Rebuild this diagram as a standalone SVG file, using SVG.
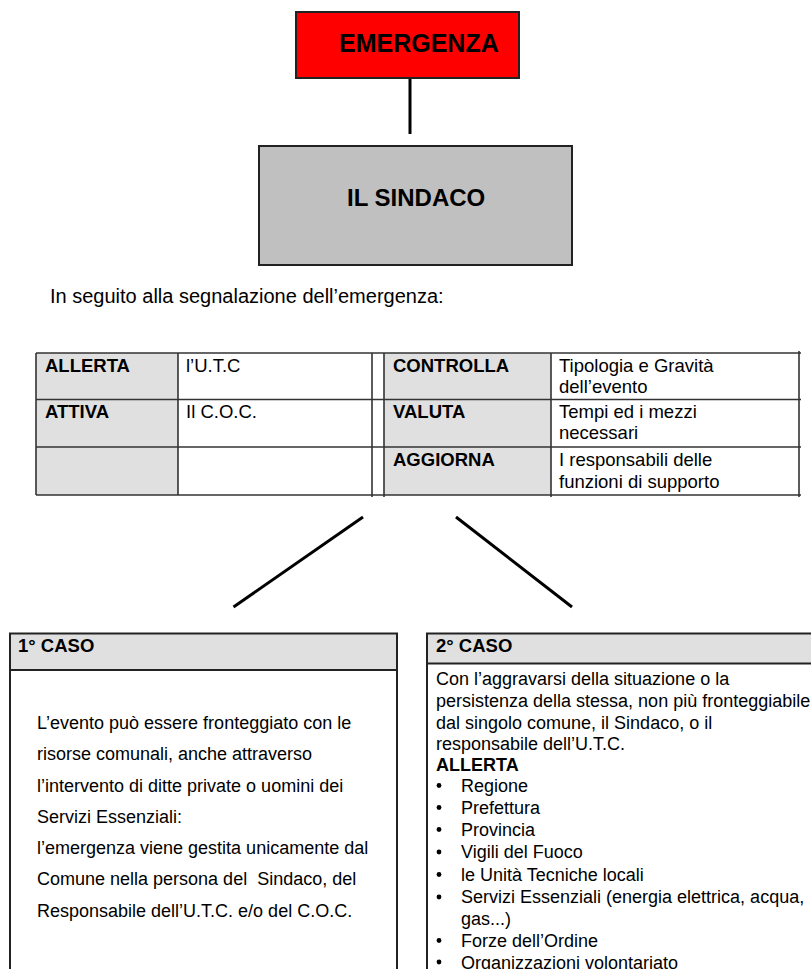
<svg xmlns="http://www.w3.org/2000/svg" width="811" height="969" viewBox="0 0 811 969">
<style>
text{font-family:"Liberation Sans",Arial,sans-serif;fill:#000}
.b{font-weight:bold}
.t{font-size:18.5px}
.c{font-size:18px}
.box{stroke:#222;stroke-width:2}
.grid{stroke:#333;stroke-width:1.6;fill:none}
.con{stroke:#000;stroke-width:3;fill:none}
.bul{fill:#000}
</style>
<rect width="811" height="969" fill="#fff"/>
<g id="connectors">
<line class="con" x1="410" y1="78" x2="410" y2="134"/>
<line class="con" x1="363" y1="517" x2="233.5" y2="607"/>
<line class="con" x1="456" y1="517" x2="572" y2="607"/>
</g>
<g id="emergenza">
<rect class="box" x="296" y="12" width="223" height="66" fill="#ff0000"/>
<text class="b" x="339" y="52" font-size="25">EMERGENZA</text>
</g>
<g id="sindaco">
<rect class="box" x="259" y="146" width="313" height="119" fill="#c0c0c0"/>
<text class="b" x="347" y="205.5" font-size="24">IL SINDACO</text>
</g>
<g id="intro">
<text x="50" y="303" font-size="20">In seguito alla segnalazione dell’emergenza:</text>
</g>
<g id="tabella">
<rect x="36" y="353" width="142" height="142" fill="#e0e0e0"/>
<rect x="384" y="353" width="167" height="142" fill="#e0e0e0"/>
<line class="grid" x1="36" y1="353" x2="801" y2="353"/>
<line class="grid" x1="36" y1="399.5" x2="801" y2="399.5"/>
<line class="grid" x1="36" y1="447" x2="801" y2="447"/>
<line class="grid" x1="36" y1="495" x2="801" y2="495"/>
<line class="grid" x1="36" y1="353" x2="36" y2="495"/>
<line class="grid" x1="178" y1="353" x2="178" y2="495"/>
<line class="grid" x1="372" y1="353" x2="372" y2="497"/>
<line class="grid" x1="384" y1="353" x2="384" y2="497"/>
<line class="grid" x1="551" y1="353" x2="551" y2="497"/>
<line class="grid" x1="799" y1="351" x2="799" y2="497"/>
<text class="b t" x="45" y="371.5">ALLERTA</text>
<text class="t" x="186" y="371.5">l’U.T.C</text>
<text class="b t" x="45" y="417.5">ATTIVA</text>
<text class="t" x="186" y="417.5">Il C.O.C.</text>
<text class="b t" x="393" y="371.5">CONTROLLA</text>
<text class="t" x="559" y="371.5">Tipologia e Gravità</text>
<text class="t" x="559" y="393.3">dell’evento</text>
<text class="b t" x="393" y="417.5">VALUTA</text>
<text class="t" x="559" y="417.5">Tempi ed i mezzi</text>
<text class="t" x="559" y="439">necessari</text>
<text class="b t" x="393" y="466">AGGIORNA</text>
<text class="t" x="559" y="466">I responsabili delle</text>
<text class="t" x="559" y="488">funzioni di supporto</text>
</g>
<g id="caso1">
<rect x="10" y="633.5" width="387" height="36.5" fill="#e0e0e0"/>
<path class="box" fill="none" d="M10,980 V633.5 H397 V980 M10,670 H397"/>
<text class="b t" x="18" y="652">1° CASO</text>
<text class="c" x="37" y="729.3">L’evento può essere fronteggiato con le</text>
<text class="c" x="37" y="760.3">risorse comunali, anche attraverso</text>
<text class="c" x="37" y="791.6">l’intervento di ditte private o uomini dei</text>
<text class="c" x="37" y="822.6">Servizi Essenziali:</text>
<text class="c" x="37" y="853.6">l’emergenza viene gestita unicamente dal</text>
<text class="c" x="37" y="885">Comune nella persona del&#160; Sindaco, del</text>
<text class="c" x="37" y="916.6">Responsabile dell’U.T.C. e/o del C.O.C.</text>
</g>
<g id="caso2">
<rect x="427" y="633.5" width="400" height="30" fill="#e0e0e0"/>
<path class="box" fill="none" d="M427,980 V633.5 H830 M427,663.5 H830"/>
<text class="b t" x="436" y="651.5">2° CASO</text>
<text class="c" x="436" y="685.3">Con l’aggravarsi della situazione o la</text>
<text class="c" x="436" y="707">persistenza della stessa, non più fronteggiabile</text>
<text class="c" x="436" y="728.5">dal singolo comune, il Sindaco, o il</text>
<text class="c" x="436" y="750">responsabile dell’U.T.C.</text>
<text class="c b" x="436" y="770.5">ALLERTA</text>
<circle class="bul" cx="439" cy="785.5" r="2.4"/>
<text class="c" x="461" y="792">Regione</text>
<circle class="bul" cx="439" cy="807.5" r="2.4"/>
<text class="c" x="461" y="814">Prefettura</text>
<circle class="bul" cx="439" cy="829.5" r="2.4"/>
<text class="c" x="461" y="836">Provincia</text>
<circle class="bul" cx="439" cy="852" r="2.4"/>
<text class="c" x="461" y="858.3">Vigili del Fuoco</text>
<circle class="bul" cx="439" cy="874.5" r="2.4"/>
<text class="c" x="461" y="880.7">le Unità Tecniche locali</text>
<circle class="bul" cx="439" cy="897" r="2.4"/>
<text class="c" x="461" y="903.3">Servizi Essenziali (energia elettrica, acqua,</text>
<text class="c" x="461" y="925">gas...)</text>
<circle class="bul" cx="439" cy="940.5" r="2.4"/>
<text class="c" x="461" y="946.7">Forze dell’Ordine</text>
<circle class="bul" cx="439" cy="962" r="2.4"/>
<text class="c" x="461" y="968.5">Organizzazioni volontariato</text>
</g>
</svg>
